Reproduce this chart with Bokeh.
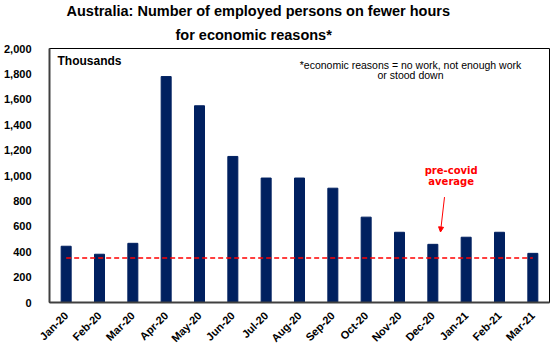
from bokeh.plotting import figure
from bokeh.models import (FactorRange, FixedTicker, NumeralTickFormatter, Label,
                          Arrow, NormalHead, Range1d, Title)
from bokeh.embed import file_html
from bokeh.resources import INLINE
import math

months = ["Jan-20", "Feb-20", "Mar-20", "Apr-20", "May-20", "Jun-20", "Jul-20",
          "Aug-20", "Sep-20", "Oct-20", "Nov-20", "Dec-20", "Jan-21", "Feb-21", "Mar-21"]
employed = [443, 380, 466, 1779, 1549, 1150, 980, 980, 900, 672, 553, 458, 514, 553, 387]
precovid_avg = 350
y_ticks = [0, 200, 400, 600, 800, 1000, 1200, 1400, 1600, 1800, 2000]

title_lines = ["Australia: Number of employed persons on fewer hours",
               "for economic reasons*"]
note_lines = ["*economic reasons = no work, not enough work", "or stood down"]

FONT = "Liberation Sans"

p = figure(width=555, height=351, x_range=FactorRange(factors=months, range_padding=0),
           y_range=Range1d(0, 2000), output_backend="svg", toolbar_location=None,
           min_border_left=45, min_border_right=6, min_border_top=0, min_border_bottom=48)
p.title.visible = False
p.background_fill_color = "white"
p.border_fill_color = "white"
p.outline_line_color = "black"
p.outline_line_width = 1
p.xgrid.visible = False
p.ygrid.visible = False

# title lines (second line added first: it sits closer to the plot)
t2 = Title(text=title_lines[1], align="left", text_font=FONT, text_font_style="bold",
           text_font_size="14.5px", text_color="black", standoff=12, offset=126)
t1 = Title(text=title_lines[0], align="left", text_font=FONT, text_font_style="bold",
           text_font_size="14.5px", text_color="black", standoff=-1, offset=17)
spacer = Title(text=" ", align="left", text_font_size="1px", standoff=-2)
p.add_layout(t2, "above")
p.add_layout(t1, "above")
p.add_layout(spacer, "above")

p.vbar(x=months, top=employed, width=0.3, fill_color="#002060", line_color="#002060")
p.line(x=months, y=[precovid_avg] * len(months), line_color="#FF0000", line_width=1.5,
       line_dash="5 3")

# axes
p.yaxis.ticker = FixedTicker(ticks=y_ticks)
p.yaxis.formatter = NumeralTickFormatter(format="0,0")
for ax in (p.xaxis, p.yaxis):
    ax.axis_line_color = "#404040"
    ax.axis_line_width = 2
    ax.major_tick_line_color = None
    ax.minor_tick_line_color = None
    ax.major_label_text_font = FONT
    ax.major_label_text_font_style = "bold"
    ax.major_label_text_color = "black"
p.yaxis.major_label_text_font_size = "11px"
p.yaxis.major_label_standoff = 12
p.xaxis.major_label_text_font_size = "11px"
p.xaxis.major_label_orientation = math.pi / 4
p.xaxis.major_label_standoff = 5

p.add_layout(Label(x=8, y=242, x_units="screen", y_units="screen", text="Thousands",
                   text_font=FONT, text_font_style="bold", text_font_size="12px",
                   text_align="left", text_baseline="middle", text_color="black"))
p.add_layout(Label(x=361, y=238, x_units="screen", y_units="screen", text=note_lines[0],
                   text_font=FONT, text_font_size="10.5px",
                   text_align="center", text_baseline="middle", text_color="black"))
p.add_layout(Label(x=361, y=228, x_units="screen", y_units="screen", text=note_lines[1],
                   text_font=FONT, text_font_size="10.5px",
                   text_align="center", text_baseline="middle", text_color="black"))

# annotation: pre-covid average
dec = months.index("Dec-20") + 0.5
p.add_layout(Label(x=dec + 0.55, y=1043, text="pre-covid", text_font="DejaVu Sans",
                   text_font_style="bold", text_font_size="10px", text_color="#FF0000",
                   text_align="center", text_baseline="middle"))
p.add_layout(Label(x=dec + 0.55, y=949, text="average", text_font="DejaVu Sans",
                   text_font_style="bold", text_font_size="10px", text_color="#FF0000",
                   text_align="center", text_baseline="middle"))
p.add_layout(Arrow(x_start=dec + 0.35, y_start=830, x_end=dec + 0.23, y_end=555,
                   line_color="#FF0000", line_width=1,
                   end=NormalHead(size=5, fill_color="#FF0000", line_color="#FF0000")))

open("out.html", "w").write(file_html(p, INLINE))
